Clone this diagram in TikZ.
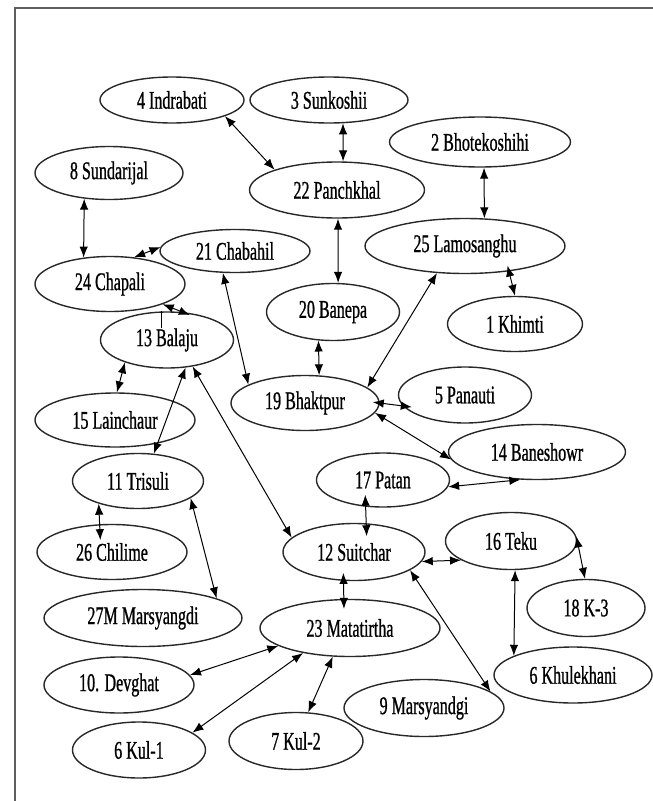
\documentclass[tikz,border=0pt]{standalone}
\usepackage{fontspec}
\usepackage{tikz}
\usetikzlibrary{shapes.geometric, arrows.meta}
\newfontfamily\plantfont{Liberation Serif}[FakeStretch=0.63, FakeBold=0.8]
\definecolor{frameGray}{RGB}{95, 95, 95}
\definecolor{ringGray}{RGB}{40, 40, 40}
\tikzset{
  plantnode/.style={
    ellipse,
    draw=ringGray, line width=1.4pt,
    inner sep=0pt, align=center,
    font=\plantfont\fontsize{25.5}{25.5}\selectfont
  },
  plantarrow/.style={
    {Latex[length=11pt,width=8.5pt]}-{Latex[length=11pt,width=8.5pt]},
    line width=1pt, color=black
  },
  plainlink/.style={
    line width=1pt, color=black
  }
}

\begin{document}
\begin{tikzpicture}[x=1pt, y=-1pt]

  \useasboundingbox (0,0) rectangle (653,801);
  \draw[frameGray, line width=1.6pt] (653,8) -- (15,8) -- (15,801);

  % upper part
  \node[plantnode, minimum width=144pt, minimum height=46pt] (indrabati)  at (172,100) {4 Indrabati};
  \node[plantnode, minimum width=158pt, minimum height=46pt] (sunkoshi)   at (329,100) {3 Sunkoshii};
  \node[plantnode, minimum width=181pt, minimum height=50pt] (bhotekoshi) at (480,142) {2 Bhotekoshihi};
  \node[plantnode, minimum width=148pt, minimum height=53pt] (sundarijal) at (109,173) {8 Sundarijal};
  \node[plantnode, minimum width=175pt, minimum height=56pt] (panchkhal)  at (337,190) {22 Panchkhal};
  \node[plantnode, minimum width=200pt, minimum height=55pt] (lamosanghu) at (465,246) {25 Lamosanghu};
  \node[plantnode, minimum width=150pt, minimum height=43pt] (chabahil)   at (235,251) {21 Chabahil};
  \node[plantnode, minimum width=150pt, minimum height=55pt] (chapali)    at (110,284) {24 Chapali};
  \node[plantnode, minimum width=133pt, minimum height=57pt] (banepa)     at (333,312) {20 Banepa};
  \node[plantnode, minimum width=135pt, minimum height=55pt] (khimti)     at (515,324) {1 Khimti};
  \node[plantnode, minimum width=133pt, minimum height=56pt] (balaju)     at (167,340) {13 Balaju};

  % middle part
  \node[plantnode, minimum width=148pt, minimum height=55pt] (bhaktpur)   at (305,403) {19 Bhaktpur};
  \node[plantnode, minimum width=133pt, minimum height=56pt] (panauti)    at (465,395) {5 Panauti};
  \node[plantnode, minimum width=160pt, minimum height=54pt] (lainchaur)  at (115,420) {15 Lainchaur};
  \node[plantnode, minimum width=177pt, minimum height=55pt] (baneshowr)  at (537,452) {14 Baneshowr};
  \node[plantnode, minimum width=133pt, minimum height=54pt] (patan)      at (383,480) {17 Patan};
  \node[plantnode, minimum width=131pt, minimum height=55pt] (trisuli)    at (138,481) {11 Trisuli};
  \node[plantnode, minimum width=142pt, minimum height=57pt] (suitchar)   at (354,552) {12 Suitchar};
  \node[plantnode, minimum width=131pt, minimum height=57pt] (teku)       at (511,541) {16 Teku};
  \node[plantnode, minimum width=150pt, minimum height=55pt] (chilime)    at (112,552) {26 Chilime};

  % lower part
  \node[plantnode, minimum width=118pt, minimum height=57pt] (kthree)      at (586,608) {18 K-3};
  \node[plantnode, minimum width=198pt, minimum height=57pt] (marsyangdiM) at (143,618) {27M Marsyangdi};
  \node[plantnode, minimum width=180pt, minimum height=57pt] (matatirtha)  at (350,628) {23 Matatirtha};
  \node[plantnode, minimum width=158pt, minimum height=56pt] (khulekhani)  at (573,675) {6 Khulekhani};
  \node[plantnode, minimum width=150pt, minimum height=56pt] (devghat)     at (119,685) {10. Devghat};
  \node[plantnode, minimum width=160pt, minimum height=57pt] (marsyandgi)  at (424,708) {9 Marsyandgi};
  \node[plantnode, minimum width=133pt, minimum height=56pt] (kulone)      at (139,750) {6 Kul-1};
  \node[plantnode, minimum width=134pt, minimum height=57pt] (kultwo)      at (296,741) {7 Kul-2};

  \draw[plantarrow] (indrabati.-17)   -- (panchkhal.162);
  \draw[plantarrow] (sunkoshi.-59)    -- (panchkhal.78);
  \draw[plantarrow] (bhotekoshi.-81)  -- (lamosanghu.55);
  \draw[plantarrow] (sundarijal.-134) -- (chapali.135);
  \draw[plantarrow] (chapali.48)      -- (chabahil.177);
  \draw[plantarrow, shorten >=-8pt] (chapali.-21) -- (balaju.61);
  \draw[plainlink]  (balaju.100)      -- ++(0,17);
  \draw[plantarrow] (chabahil.-119)   -- (bhaktpur.162);
  \draw[plantarrow] (panchkhal.-88)   -- (banepa.80);
  \draw[plantarrow] (lamosanghu.-136) -- (bhaktpur.14);
  \draw[plantarrow, shorten <=-6pt] (lamosanghu.-30) -- (khimti.90);
  \draw[plantarrow] (banepa.-117)     -- (bhaktpur.63);
  \draw[plantarrow, shorten <=-7pt, shorten >=-9pt] (bhaktpur.0) -- (panauti.-170);
  \draw[plantarrow] (bhaktpur.-8)     -- (baneshowr.-175);
  \draw[plantarrow] (balaju.-152)     -- (lainchaur.86);
  \draw[plantarrow] (balaju.-56)      -- (trisuli.60);
  \draw[plantarrow] (balaju.-46)      -- (suitchar.167);
  \draw[plantarrow] (patan.-6)        -- (baneshowr.-121);
  \draw[plantarrow, shorten <=-12pt, shorten >=-13pt] (patan.-123) -- (suitchar.67);
  \draw[plantarrow, shorten >=-16pt]  (trisuli.-150) -- (chilime.114);
  \draw[plantarrow] (trisuli.-18)     -- (marsyangdiM.15);
  \draw[plantarrow] (suitchar.-8)     -- (teku.-159);
  \draw[plantarrow, shorten <=-8pt, shorten >=-10pt] (suitchar.-110) -- (matatirtha.102);
  \draw[plantarrow] (suitchar.-18)    -- (marsyandgi.14);
  \draw[plantarrow] (teku.4)          -- (kthree.92);
  \draw[plantarrow] (teku.-82)        -- (khulekhani.162);
  \draw[plantarrow] (matatirtha.-166) -- (devghat.8);
  \draw[plantarrow] (matatirtha.-152) -- (kulone.18);
  \draw[plantarrow] (matatirtha.-121) -- (kultwo.67);

\end{tikzpicture}
\end{document}
